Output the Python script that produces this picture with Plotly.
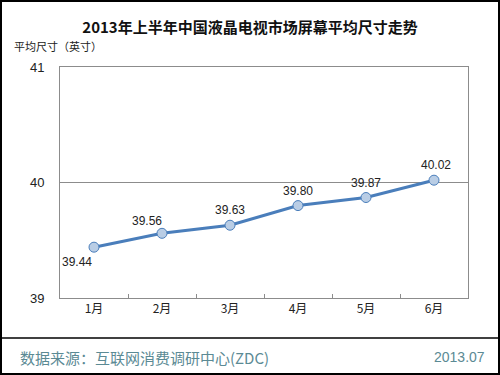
import plotly.graph_objects as go

months = ["1月", "2月", "3月", "4月", "5月", "6月"]
sizes = [39.44, 39.56, 39.63, 39.80, 39.87, 40.02]
labels = ["39.44", "39.56", "39.63", "39.80", "39.87", "40.02"]
y_ticks = [39, 40, 41]

# label placement (style only): horizontal anchor and pixel shifts
lab_xanchor = ["right", "right", "center", "center", "center", "center"]
lab_xshift = [0, 2, 0, 0, 0, 2]
lab_yshift = [-15, 12, 15, 15, 15, 15]

W, H = 500, 375
ML, MR, MT, MB = 60, 32, 67, 77
pw = W - ML - MR
ph = H - MT - MB

def px_x(x):
    return (x - ML) / pw

def px_y(y):
    return (H - MB - y) / ph

font_main = "Liberation Sans, Arial, Noto Sans CJK SC, sans-serif"
font_cjk = "Noto Sans CJK SC, Liberation Sans, sans-serif"

fig = go.Figure()
fig.add_trace(go.Scatter(
    x=months, y=sizes, mode="lines+markers",
    line=dict(color="#4a7ebb", width=3),
    marker=dict(size=10, color="#b9cde5", line=dict(color="#4a7ebb", width=1)),
    cliponaxis=False, showlegend=False, hoverinfo="skip",
))

annotations = [
    dict(text="平均尺寸（英寸）", xref="paper", yref="paper",
         x=px_x(12), y=px_y(46), xanchor="left", yanchor="middle", showarrow=False,
         font=dict(family=font_cjk, size=11, color="#222222")),
    dict(text="数据来源：互联网消费调研中心(ZDC)", xref="paper", yref="paper",
         x=px_x(18), y=px_y(357), xanchor="left", yanchor="middle", showarrow=False,
         font=dict(family=font_cjk, size=15, color="#5b8a94")),
    dict(text="2013.07", xref="paper", yref="paper",
         x=px_x(487), y=px_y(357), xanchor="right", yanchor="middle", showarrow=False,
         font=dict(family=font_main, size=14, color="#5b8a94")),
]
for m, v, t, xa, xs, ys in zip(months, sizes, labels, lab_xanchor, lab_xshift, lab_yshift):
    annotations.append(dict(
        text=t, x=m, y=v, xref="x", yref="y", showarrow=False,
        xanchor=xa, yanchor="middle", xshift=xs, yshift=ys,
        font=dict(family=font_main, size=12, color="#222222")))

fig.update_layout(
    width=W, height=H,
    margin=dict(l=ML, r=MR, t=MT, b=MB),
    paper_bgcolor="white", plot_bgcolor="white",
    title=dict(text="<b>2013年上半年中国液晶电视市场屏幕平均尺寸走势</b>",
               x=0.5, xanchor="center", y=1 - 28 / H, yanchor="middle",
               font=dict(family=font_cjk, size=15, color="#111111")),
    xaxis=dict(range=[-0.5, len(months) - 0.5], showline=True, linecolor="#8c8c8c",
               linewidth=1, mirror=True,
               ticks="inside", tickson="boundaries", ticklen=4, tickcolor="#8c8c8c",
               showgrid=False, tickfont=dict(family=font_cjk, size=12, color="#222222"),
               fixedrange=True),
    yaxis=dict(range=[39, 41], tickvals=y_ticks, showline=True, linecolor="#8c8c8c",
               linewidth=1, mirror=True, showgrid=True, gridcolor="#8c8c8c", gridwidth=1,
               zeroline=False, ticks="", ticklabelstandoff=12, fixedrange=True,
               tickfont=dict(family=font_main, size=13, color="#222222")),
    shapes=[
        dict(type="rect", xref="paper", yref="paper",
             x0=px_x(1), x1=px_x(W - 1), y0=px_y(H - 1), y1=px_y(1),
             line=dict(color="black", width=2), layer="above"),
        dict(type="line", xref="paper", yref="paper",
             x0=px_x(1), x1=px_x(W - 1), y0=px_y(338), y1=px_y(338),
             line=dict(color="black", width=1.5)),
    ],
    annotations=annotations,
)

fig.write_html("out.html", config={"displayModeBar": False},
               post_script="document.body.style.margin='0';document.body.style.overflow='hidden';")
